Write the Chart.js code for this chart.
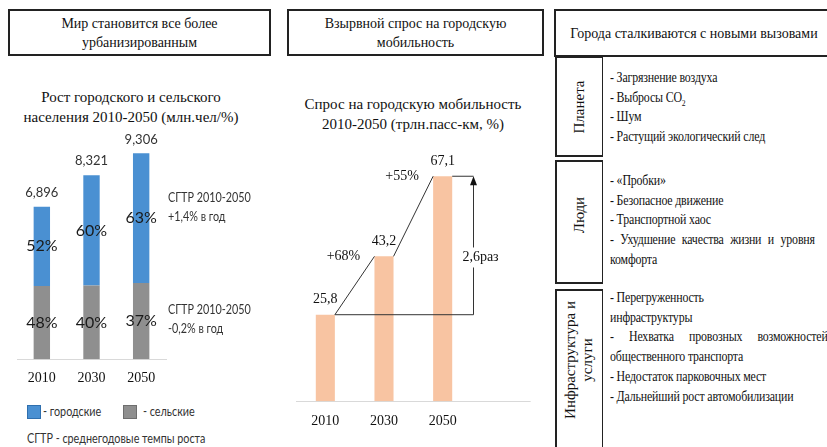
<!DOCTYPE html>
<html lang="ru">
<head>
<meta charset="utf-8">
<title>Городская мобильность</title>
<script src="https://cdn.jsdelivr.net/npm/chart.js@4.4.1/dist/chart.umd.min.js"></script>
<style>
  html, body { margin: 0; padding: 0; background: #fff; }
  body { width: 827px; height: 447px; position: relative; overflow: hidden;
         font-family: "Liberation Serif", "Times New Roman", serif; color: #111; }
  .hbox { position: absolute; box-sizing: border-box; border: 2px solid #222;
          display: flex; align-items: center; justify-content: center; text-align: center;
          font-size: 14px; line-height: 19px; }
  .sub { position: absolute; text-align: center; font-size: 15px; line-height: 20px; }
  .sans { font-family: Lato, "Open Sans", sans-serif; color: #333; }
  .note { position: absolute; font-size: 13px; line-height: 19px; white-space: nowrap;
          transform: scaleX(0.83); transform-origin: left top; }
  .sq { position: absolute; width: 14px; height: 14px; box-sizing: border-box; }
  .rowbox { position: absolute; box-sizing: border-box; border: 2px solid #222; border-right-width: 1.5px; left: 555px; width: 48px; }
  .vlabel { position: absolute; transform: translate(-50%, -50%) rotate(-90deg); white-space: nowrap;
            font-size: 15px; line-height: 17px; text-align: center; }
  .items { position: absolute; left: 610px; font-size: 14px; line-height: 19.7px; white-space: nowrap;
           letter-spacing: -0.2px; transform: scaleX(0.85); transform-origin: left top; }
  .items div { white-space: nowrap; }
  .just { text-align: justify; text-align-last: justify; white-space: normal !important; }
  canvas { position: absolute; }
</style>
</head>
<body>

<!-- panel 1: urbanisation -->
<div class="hbox" style="left:8px; top:9px; width:263px; height:47px;">Мир становится все более<br>урбанизированным</div>
<div class="sub" style="left:0px; top:87px; width:262px;">Рост городского и сельского<br>населения 2010-2050 (млн.чел/%)</div>
<canvas id="popChart" width="280" height="270" style="left:0; top:130px; width:280px; height:270px;"></canvas>
<div class="note sans" style="left:168px; top:188px;">СГТР 2010-2050<br>+1,4% в год</div>
<div class="note sans" style="left:168px; top:300px;">СГТР 2010-2050<br>-0,2% в год</div>
<div class="sq" style="left:27px; top:405px; background:#4a90d2; border:1px solid #2f6fae;"></div>
<div class="note sans" style="left:43px; top:402px;">- городские</div>
<div class="sq" style="left:123px; top:405px; background:#8f8f8f; border:1px solid #6e6e6e;"></div>
<div class="note sans" style="left:143px; top:402px;">- сельские</div>
<div class="note sans" style="left:27px; top:429px;">СГТР - среднегодовые темпы роста</div>

<!-- panel 2: mobility demand -->
<div class="hbox" style="left:287px; top:9px; width:257px; height:47px;">Взырвной спрос на городскую<br>мобильность</div>
<div class="sub" style="left:283px; top:94px; width:260px;">Спрос на городскую мобильность<br>2010-2050 (трлн.пасс-км, %)</div>
<canvas id="mobChart" width="270" height="317" style="left:280px; top:130px; width:270px; height:317px;"></canvas>

<!-- panel 3: challenges -->
<div class="hbox" style="left:554px; top:9px; width:280px; height:48px;">Города сталкиваются с новыми вызовами</div>
<div class="rowbox" style="top:56px; height:101px;"></div>
<div class="rowbox" style="top:160px; height:124px;"></div>
<div class="rowbox" style="top:289px; height:170px;"></div>
<div class="vlabel" style="left:579px; top:107px;">Планета</div>
<div class="vlabel" style="left:579px; top:215px;">Люди</div>
<div class="vlabel" style="left:579px; top:360px;">Инфраструктура и<br>услуги</div>

<div class="items" style="top:68px;">
  <div>- Загрязнение воздуха</div>
  <div>- Выбросы CO<sub style="font-size:9px; line-height:0;">2</sub></div>
  <div>- Шум</div>
  <div>- Растущий экологический след</div>
</div>
<div class="items" style="top:171px;">
  <div>- «Пробки»</div>
  <div>- Безопасное движение</div>
  <div>- Транспортной хаос</div>
  <div class="just" style="width:241px;">- Ухудшение качества жизни и уровня</div>
  <div>комфорта</div>
</div>
<div class="items" style="top:288px;">
  <div>- Перегруженность</div>
  <div>инфраструктуры</div>
  <div class="just" style="width:256px;">- Нехватка провозных возможностей</div>
  <div>общественного транспорта</div>
  <div>- Недостаток парковочных мест</div>
  <div>- Дальнейший рост автомобилизации</div>
</div>

<script>
// Population, 2010-2050 (millions) and urban / rural shares (%)
const years = ['2010', '2030', '2050'];
const populationTotal = [6896, 8321, 9306];
const populationLabels = ['6,896', '8,321', '9,306'];
const urbanShare = [52, 60, 63];
const ruralShare = [48, 40, 37];

// Urban mobility demand (trillion passenger-km)
const mobilityDemand = [25.8, 43.2, 67.1];
const mobilityLabels = ['25,8', '43,2', '67,1'];
const growthLabels = ['+68%', '+55%'];
const growthMultipleLabel = '2,6раз';

const COLOR_URBAN = '#4a90d2';
const COLOR_RURAL = '#8f8f8f';
const COLOR_MOBILITY = '#f8c4a2';

const ruralValues = populationTotal.map((t, i) => t * ruralShare[i] / 100);
const urbanValues = populationTotal.map((t, i) => t * urbanShare[i] / 100);

const baseOptions = {
  responsive: false,
  animation: false,
  devicePixelRatio: 1,
  events: [],
  plugins: { legend: { display: false }, tooltip: { enabled: false } }
};

// Share labels inside each segment and totals above the stacks
const populationLabelsPlugin = {
  id: 'populationLabels',
  afterDatasetsDraw(chart) {
    const ctx = chart.ctx;
    const rural = chart.getDatasetMeta(0).data;
    const urban = chart.getDatasetMeta(1).data;
    ctx.save();
    ctx.textAlign = 'center';
    ctx.textBaseline = 'middle';
    ctx.fillStyle = '#1a1a1a';
    ctx.font = '16px Lato, sans-serif';
    urban.forEach((bar, i) => {
      ctx.fillText(urbanShare[i] + '%', bar.x, (bar.y + bar.base) / 2);
    });
    rural.forEach((bar, i) => {
      ctx.fillText(ruralShare[i] + '%', bar.x, (bar.y + bar.base) / 2);
    });
    ctx.fillStyle = '#333';
    ctx.font = '13px Lato, sans-serif';
    urban.forEach((bar, i) => {
      ctx.fillText(populationLabels[i], bar.x, bar.y - 14);
    });
    ctx.restore();
  }
};

new Chart(document.getElementById('popChart'), {
  type: 'bar',
  data: {
    labels: years,
    datasets: [
      { label: 'сельские', data: ruralValues, backgroundColor: COLOR_RURAL, barPercentage: 0.33, categoryPercentage: 1 },
      { label: 'городские', data: urbanValues, backgroundColor: COLOR_URBAN, barPercentage: 0.33, categoryPercentage: 1 }
    ]
  },
  options: Object.assign({}, baseOptions, {
    layout: { padding: { left: 17, right: 114, top: 8, bottom: 2 } },
    scales: {
      x: {
        stacked: true,
        grid: { display: false, drawTicks: false },
        border: { display: true, color: '#d9d9d9', width: 1 },
        ticks: { font: { family: 'Liberation Serif', size: 14 }, color: '#111', padding: 11 }
      },
      y: { stacked: true, display: false, min: 0, max: 10000 }
    }
  }),
  plugins: [populationLabelsPlugin]
});

// Extended baseline, value labels, growth lines and the 2010→2050 bracket
const mobilityAnnotations = {
  id: 'mobilityAnnotations',
  beforeDatasetsDraw(chart) {
    const { ctx, chartArea } = chart;
    const step = (chartArea.right - chartArea.left) / years.length;
    ctx.save();
    ctx.strokeStyle = '#d9d9d9';
    ctx.lineWidth = 1;
    ctx.beginPath();
    ctx.moveTo(chartArea.left, Math.round(chartArea.bottom) + 0.5);
    ctx.lineTo(chartArea.right + step, Math.round(chartArea.bottom) + 0.5);
    ctx.stroke();
    ctx.restore();
  },
  afterDatasetsDraw(chart) {
    const ctx = chart.ctx;
    const bars = chart.getDatasetMeta(0).data;
    ctx.save();
    ctx.fillStyle = '#111';
    ctx.strokeStyle = '#333';
    ctx.lineWidth = 1;
    ctx.font = '14px "Liberation Serif", serif';
    ctx.textAlign = 'center';
    ctx.textBaseline = 'middle';

    bars.forEach((bar, i) => {
      ctx.fillText(mobilityLabels[i], bar.x, bar.y - 15);
    });

    for (let i = 0; i < bars.length - 1; i++) {
      const a = bars[i], b = bars[i + 1];
      const x1 = a.x + a.width / 2, x2 = b.x - b.width / 2;
      ctx.beginPath();
      ctx.moveTo(x1, a.y);
      ctx.lineTo(x2, b.y);
      ctx.stroke();
      ctx.fillText(growthLabels[i], x2 - 31, b.y);
    }

    const first = bars[0], last = bars[bars.length - 1];
    const ax = Math.round(last.x + last.width / 2 + 21) + 0.5;
    ctx.beginPath();
    ctx.moveTo(last.x + last.width / 2, last.y);
    ctx.lineTo(ax, last.y);
    ctx.moveTo(first.x + first.width / 2, first.y);
    ctx.lineTo(ax, first.y);
    ctx.moveTo(ax, first.y);
    ctx.lineTo(ax, last.y + 8);
    ctx.stroke();
    ctx.fillStyle = '#111';
    ctx.beginPath();
    ctx.moveTo(ax, last.y);
    ctx.lineTo(ax - 3.5, last.y + 9);
    ctx.lineTo(ax + 3.5, last.y + 9);
    ctx.closePath();
    ctx.fill();

    const ty = (first.y + last.y) / 2 + 12;
    const tw = ctx.measureText(growthMultipleLabel).width;
    const tx = ax + 7;
    ctx.fillStyle = '#fff';
    ctx.fillRect(tx - tw / 2 - 1, ty - 10, tw + 2, 20);
    ctx.fillStyle = '#111';
    ctx.fillText(growthMultipleLabel, tx, ty);
    ctx.restore();
  }
};

new Chart(document.getElementById('mobChart'), {
  type: 'bar',
  data: {
    labels: years,
    datasets: [
      { label: 'трлн.пасс-км', data: mobilityDemand, backgroundColor: COLOR_MOBILITY, barPercentage: 0.325, categoryPercentage: 1 }
    ]
  },
  options: Object.assign({}, baseOptions, {
    layout: { padding: { left: 16, right: 78, top: 3, bottom: 5 } },
    scales: {
      x: {
        grid: { display: false, drawTicks: false },
        border: { display: false },
        ticks: { font: { family: 'Liberation Serif', size: 14 }, color: '#111', padding: 12 }
      },
      y: { display: false, min: 0, max: 80 }
    }
  }),
  plugins: [mobilityAnnotations]
});
</script>
</body>
</html>
